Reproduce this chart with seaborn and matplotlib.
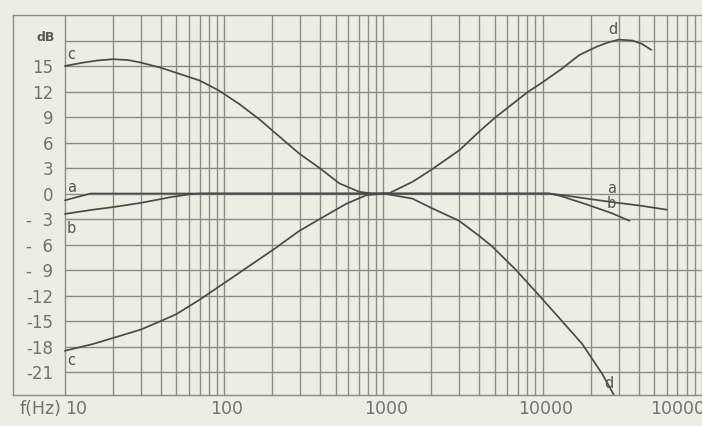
import numpy as np
import pandas as pd
import matplotlib
matplotlib.use("Agg")
import matplotlib.pyplot as plt
import seaborn as sns

# ---- data ----
a_f = [10, 12, 14.5, 100, 1000, 11000, 14000, 19000, 27000, 40000, 60000]
a_v = [-0.8, -0.4, 0.0, 0.0, 0.0, 0.0, -0.25, -0.6, -1.0, -1.4, -1.9]

b_f = [10, 15, 20, 30, 47, 60, 70, 1000, 11000, 13000, 19000, 27000, 35000]
b_v = [-2.4, -1.9, -1.6, -1.1, -0.4, -0.1, 0.0, 0.0, 0.0, -0.3, -1.3, -2.3, -3.2]

c_boost_f = [10, 13, 16, 20, 25, 30, 40, 50, 70, 93, 125, 167, 222, 296, 397, 528, 705, 850, 1000]
c_boost_v = [15.0, 15.4, 15.65, 15.8, 15.7, 15.4, 14.8, 14.2, 13.3, 12.1, 10.5, 8.7, 6.7,
             4.7, 3.0, 1.2, 0.2, 0.0, 0.0]

c_cut_f = [10, 15, 20, 30, 40, 50, 70, 125, 207, 296, 415, 585, 780, 1000]
c_cut_v = [-18.5, -17.7, -17.0, -16.0, -15.0, -14.2, -12.5, -9.3, -6.5, -4.4, -2.8,
           -1.2, -0.2, 0.0]

d_boost_f = [1000, 1090, 1530, 2000, 3000, 4000, 5000, 8000, 10000, 13000, 17000,
             22000, 26000, 30000, 36500, 42000, 48000]
d_boost_v = [0.0, 0.05, 1.4, 2.8, 5.1, 7.3, 8.9, 11.9, 13.1, 14.6, 16.3,
             17.3, 17.8, 18.1, 18.0, 17.6, 16.9]

d_cut_f = [1000, 1520, 2000, 2980, 4000, 4800, 6800, 9500, 13200, 17700, 23600, 28000]
d_cut_v = [0.0, -0.6, -1.7, -3.2, -5.0, -6.2, -9.0, -12.0, -15.0, -17.7, -21.2, -23.7]

y_ticks = [15, 12, 9, 6, 3, 0, -3, -6, -9, -12, -15, -18, -21]
y_labels = ["15", "12", "9", "6", "3", "0", "-\u20073", "-\u20076", "-\u20079",
            "-12", "-15", "-18", "-21"]
x_ticks = [10, 100, 1000, 10000, 100000]
x_labels = ["10", "100", "1000", "10000", "100000"]

curves = {
    "a": (a_f, a_v), "b": (b_f, b_v),
    "c_boost": (c_boost_f, c_boost_v), "c_cut": (c_cut_f, c_cut_v),
    "d_boost": (d_boost_f, d_boost_v), "d_cut": (d_cut_f, d_cut_v),
}
df = pd.concat(
    [pd.DataFrame({"f": f, "dB": v, "curve": k}) for k, (f, v) in curves.items()],
    ignore_index=True,
)

# ---- style ----
BG = "#eceee4"
GRID = "#8a8c86"
LINE = "#4a4b47"
TXT = "#727370"

sns.set_theme(style="white")
plt.rcParams["font.family"] = ["DejaVu Sans"]

fig = plt.figure(figsize=(7.02, 4.26), dpi=100, facecolor=BG)
W, H = 702, 426
AXW = W - 13
ax = fig.add_axes([13 / W, (H - 395) / H, AXW / W, (395 - 15) / H])
ax.set_facecolor(BG)

dec = 159.5
xmin = 10 ** (1 - (65 - 13) / dec)
xmax = 10 ** (1 + (702 - 65) / dec)
ax.set_xscale("log")
ax.set_xlim(xmin, xmax)
ax.set_ylim(-23.7, 21.0)

# vertical grid (log decades + minor), only from 10 Hz on
minor = [k * 10 ** e for e in range(1, 5) for k in range(2, 10)]
ax.set_xticks(x_ticks)
ax.set_xticks(minor, minor=True)
ax.xaxis.grid(True, which="both", color=GRID, linewidth=1.0)
ax.tick_params(axis="x", which="both", length=0)
ax.set_xticklabels([])

# horizontal grid starting at 10 Hz
ax.hlines(y_ticks + [18], 10, xmax, colors=GRID, linewidth=1.0, zorder=0.5)
ax.set_axisbelow(True)

# y tick labels placed inside the frame
ax.set_yticks(y_ticks)
ax.set_yticklabels(y_labels)
ax.tick_params(axis="y", length=0, pad=-(40 * 0.72), labelsize=12, labelcolor=TXT)
for lab in ax.get_yticklabels():
    lab.set_horizontalalignment("right")
ax.text(42 / AXW, 18.4, "dB", transform=ax.get_yaxis_transform(),
        ha="right", va="center", fontsize=9, color="#5a5b56", fontweight="bold")

# x labels
ylab = -25.3
XFS = 12.5
ax.text(10, ylab, "10", ha="left", va="center", fontsize=XFS, color=TXT, clip_on=False)
for xv, lbl in zip(x_ticks[1:4], x_labels[1:4]):
    ax.text(xv * 1.04, ylab, lbl, ha="center", va="center", fontsize=XFS,
            color=TXT, clip_on=False)
ax.text((650 - 13) / AXW, ylab, x_labels[4], transform=ax.get_yaxis_transform(),
        ha="left", va="center", fontsize=XFS, color=TXT, clip_on=False)
ax.text((61 - 13) / AXW, ylab, "f(Hz)", transform=ax.get_yaxis_transform(),
        ha="right", va="center", fontsize=XFS, color=TXT, clip_on=False)

# spines
for s in ["left", "top", "bottom"]:
    ax.spines[s].set_color(GRID)
    ax.spines[s].set_linewidth(1.0)
ax.spines["right"].set_visible(False)

# curves
sns.lineplot(data=df, x="f", y="dB", units="curve", estimator=None, sort=False,
             color=LINE, linewidth=1.25, ax=ax, legend=False)
ax.set_xlabel("")
ax.set_ylabel("")

# curve letters
lab_kw = dict(fontsize=10.5, color="#55564f", ha="center", va="center")
ax.text(10.9, 16.3, "c", **lab_kw)
ax.text(11.0, 0.7, "a", **lab_kw)
ax.text(10.9, -4.1, "b", **lab_kw)
ax.text(10.9, -19.6, "c", **lab_kw)
ax.text(27500, 19.3, "d", **lab_kw)
ax.text(27000, 0.6, "a", **lab_kw)
ax.text(27000, -1.2, "b", **lab_kw)
ax.text(26000, -22.3, "d", **lab_kw)

fig.savefig("out.png", dpi=100, facecolor=BG)
